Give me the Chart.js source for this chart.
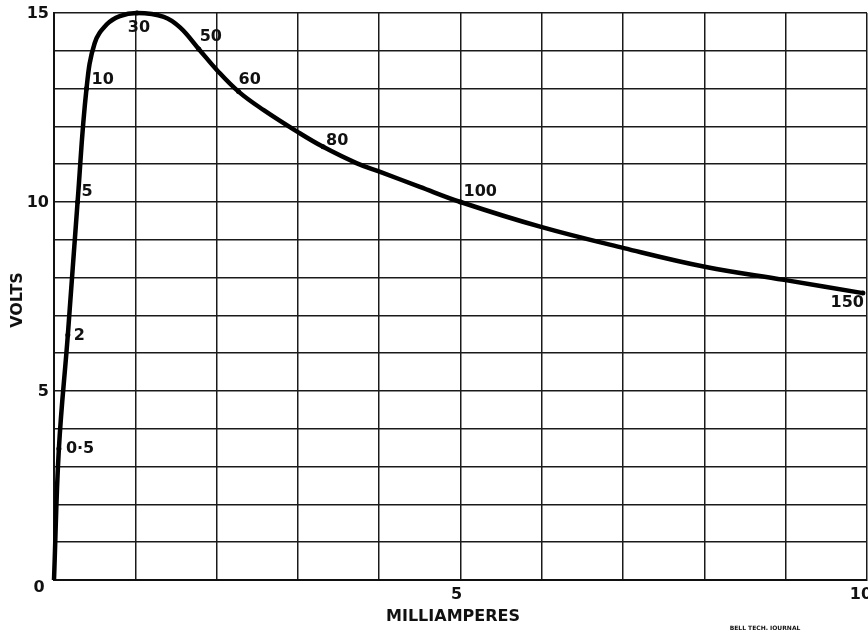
<!DOCTYPE html>
<html>
<head>
<meta charset="utf-8">
<script src="https://cdn.jsdelivr.net/npm/chart.js@4"></script>
<style>
  body { margin: 0; background: #fff; }
  #wrap { width: 868px; height: 630px; }
</style>
</head>
<body>
<div id="wrap"><canvas id="myChart" width="868" height="630"></canvas></div>
<script>
// characteristic curve, current in mA against volts
const curveCurrent = [0, 0.06, 0.17, 0.29, 0.40, 0.50, 0.65, 0.81, 1.02, 1.35, 1.55, 1.78, 2.00, 2.27, 2.58, 3.00, 3.31, 3.72, 4.02, 4.50, 5.00, 5.99, 7.01, 8.02, 8.98, 9.95];
const curveVolts = [0, 3.47, 6.48, 10.0, 13.0, 14.2, 14.7, 14.92, 15.0, 14.9, 14.62, 14.05, 13.5, 12.92, 12.43, 11.85, 11.46, 11.03, 10.79, 10.4, 10.0, 9.34, 8.78, 8.28, 7.94, 7.59];

// marked points along the curve
const markCurrent = [0.06, 0.17, 0.29, 0.40, 1.02, 1.78, 2.27, 3.31, 5.0, 9.95];
const markVolts = [3.47, 6.48, 10.0, 13.0, 15.0, 14.05, 12.92, 11.46, 10.0, 7.59];
const markLabels = ["0·5", "2", "5", "10", "30", "50", "60", "80", "100", "150"];

// axis labels
const xTickValues = [5, 10];
const xTickLabels = ["5", "10"];
const yTickValues = [15, 10, 5];
const yTickLabels = ["15", "10", "5"];

const FONT = "bold 16px 'DejaVu Sans'";

// where each point label sits relative to its point
const labelPlace = [
    [7, 0, "left"], [6, 1, "left"], [4, -10, "left"], [5, -9, "left"],
    [2, 15, "center"], [1, -12, "left"], [0, -12, "left"], [3, -6, "left"],
    [3, -10, "left"], [1, 10, "right"]
];

const textPlugin = {
    id: "texts",
    afterDatasetsDraw(chart) {
        const ctx = chart.ctx;
        const xs = chart.scales.x;
        const ys = chart.scales.y;
        ctx.save();
        ctx.fillStyle = "#111";
        ctx.font = FONT;
        ctx.textBaseline = "middle";

        // point labels
        const meta = chart.getDatasetMeta(1);
        meta.data.forEach((pt, i) => {
            const p = labelPlace[i];
            ctx.textAlign = p[2];
            ctx.fillText(markLabels[i], pt.x + p[0], pt.y + p[1]);
        });

        // y ticks
        ctx.textAlign = "right";
        yTickValues.forEach((v, i) => {
            ctx.fillText(yTickLabels[i], xs.left - 5, ys.getPixelForValue(v) + 1);
        });
        // shared origin
        ctx.textAlign = "center";
        ctx.fillText("0", xs.left - 15, ys.bottom + 8);

        // x ticks
        xTickValues.forEach((v, i) => {
            let px = xs.getPixelForValue(v) - 4;
            if (v === 10) px = xs.getPixelForValue(v) - 6;
            ctx.fillText(xTickLabels[i], px, ys.bottom + 15);
        });

        // axis titles
        ctx.fillText("MILLIAMPERES", 453, 617);
        ctx.save();
        ctx.translate(18, 300);
        ctx.rotate(-Math.PI / 2);
        ctx.fillText("VOLTS", 0, 0);
        ctx.restore();

        ctx.font = "bold 6px 'DejaVu Sans'";
        ctx.fillText("BELL TECH. JOURNAL", 765, 628);
        ctx.restore();
    }
};

const curvePoints = curveCurrent.map((c, i) => ({ x: c, y: curveVolts[i] }));
const markPoints = markCurrent.map((c, i) => ({ x: c, y: markVolts[i] }));

const config = {
    type: "line",
    data: {
        datasets: [
            {
                data: curvePoints,
                borderColor: "#000",
                borderWidth: 4.5,
                pointRadius: 0,
                tension: 0.4,
                clip: false
            },
            {
                data: markPoints,
                showLine: false,
                pointRadius: 2.5,
                pointBackgroundColor: "#000",
                pointBorderWidth: 0,
                clip: false
            }
        ]
    },
    options: {
        responsive: false,
        animation: false,
        layout: { autoPadding: false, padding: { left: 54, right: 1, top: 13, bottom: 50 } },
        plugins: { legend: { display: false }, tooltip: { enabled: false } },
        scales: {
            x: {
                type: "linear",
                min: 0,
                max: 10,
                ticks: { display: false, stepSize: 1 },
                grid: { color: "#1a1a1a", lineWidth: 1.5, drawTicks: false },
                border: { color: "#111", width: 2 }
            },
            y: {
                type: "linear",
                min: 0,
                max: 15,
                ticks: { display: false, stepSize: 1 },
                grid: { color: "#1a1a1a", lineWidth: 1.5, drawTicks: false },
                border: { color: "#111", width: 2 }
            }
        }
    },
    plugins: [textPlugin]
};

new Chart(document.getElementById("myChart"), config);
</script>
</body>
</html>
